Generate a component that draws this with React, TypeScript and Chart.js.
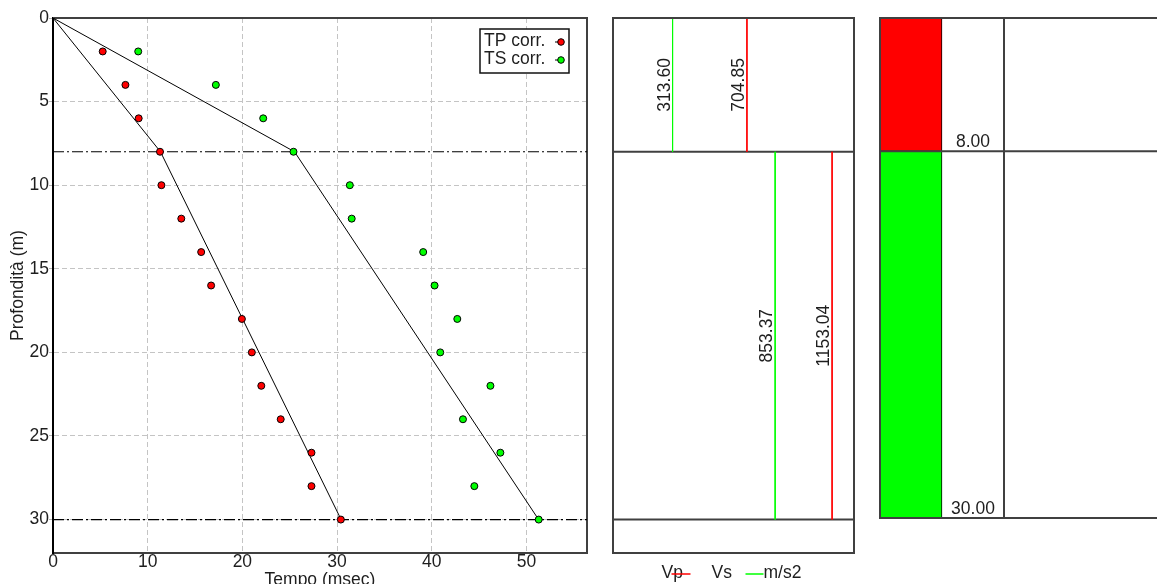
import React, { useEffect, useRef } from "react";
import { Chart, registerables } from "chart.js";

Chart.register(...registerables);

const FONT = '"Liberation Sans", Arial, sans-serif';
const FONT_SIZE = 17.5;
const TEXT = "#1e1e1e";
const FRAME = "#404040";
const GRID = "#c4c4c4";

// Corrected arrival times (msec) at each receiver depth (m)
const geophoneDepths = [2, 4, 6, 8, 10, 12, 14, 16, 18, 20, 22, 24, 26, 28, 30];
const tpCorrected = [5.25, 7.65, 9.05, 11.3, 11.45, 13.55, 15.65, 16.7, 19.95, 21.0, 22.0, 24.05, 27.3, 27.3, 30.4];
const tsCorrected = [9.0, 17.2, 22.2, 25.4, 31.35, 31.55, 39.1, 40.3, 42.7, 40.9, 46.2, 43.3, 47.25, 44.5, 51.3];

// Layered velocity model
const layerTops = [0, 8];
const layerBottoms = [8, 30];
const layerVp = [704.85, 1153.04];
const layerVs = [313.6, 853.37];
const layerColors = ["#ff0000", "#00ff00"];

// Model travel-time curves (break points)
const modelDepths = [0, 8, 30];
const modelTp = [0, 11.35, 30.43];
const modelTs = [0, 25.51, 51.29];

// Axis ticks and ranges
const timeTicks = [0, 10, 20, 30, 40, 50];
const depthTicks = [0, 5, 10, 15, 20, 25, 30];
const timeMax = 56.4;
const depthMax = 32;
const velocityMax = 1268.3;

// Columns of the stratigraphic log
const logColumns = ["c1", "c2", "c3", "c4", "c5"];

const font = { family: FONT, size: FONT_SIZE };
const cssFont = `${FONT_SIZE}px ${FONT}`;

const fixedTicks = (values: number[]) => (scale: any) => {
  scale.ticks = values.map((v) => ({ value: v }));
};

const hLine = (y: number, x0: number, x1: number, color: string, width: number, dash: number[] = []) =>
  ({
    data: [
      { x: x0, y },
      { x: x1, y },
    ],
    showLine: true,
    borderColor: color,
    borderWidth: width,
    borderDash: dash,
    pointRadius: 0,
  } as any);

const vLine = (x: number, y0: number, y1: number, color: string, label: string) =>
  ({
    label,
    data: [
      { x, y: y0 },
      { x, y: y1 },
    ],
    showLine: true,
    borderColor: color,
    borderWidth: 1,
    pointRadius: 0,
  } as any);

// Top and right edges of the travel-time plot
const leftFrame = {
  id: "leftFrame",
  beforeDatasetsDraw(chart: any) {
    const { ctx, chartArea: a } = chart;
    ctx.save();
    ctx.strokeStyle = FRAME;
    ctx.lineWidth = 2;
    ctx.beginPath();
    ctx.moveTo(a.left, a.top);
    ctx.lineTo(a.right, a.top);
    ctx.lineTo(a.right, a.bottom);
    ctx.stroke();
    ctx.restore();
  },
};

// Boxed legend in the upper right corner, marker after the label
const boxLegend = {
  id: "boxLegend",
  afterDatasetsDraw(chart: any) {
    const { ctx, chartArea: a } = chart;
    const items = chart.data.datasets.slice(0, 2);
    const right = a.right - 18;
    const left = right - 89;
    const top = a.top + 11;
    const rowH = 18;
    ctx.save();
    ctx.fillStyle = "#fff";
    ctx.fillRect(left, top, right - left, 44);
    ctx.strokeStyle = "#111";
    ctx.lineWidth = 1.5;
    ctx.strokeRect(left, top, right - left, 44);
    ctx.font = cssFont;
    ctx.textBaseline = "middle";
    ctx.textAlign = "left";
    items.forEach((ds: any, i: number) => {
      const y = top + 12 + i * rowH;
      ctx.fillStyle = TEXT;
      ctx.fillText(ds.label, left + 4, y);
      const mx = right - 8;
      ctx.strokeStyle = "#000";
      ctx.lineWidth = 1;
      ctx.beginPath();
      ctx.moveTo(mx - 6, y + 1);
      ctx.lineTo(mx, y + 1);
      ctx.stroke();
      ctx.beginPath();
      ctx.arc(mx, y + 1, 3.3, 0, Math.PI * 2);
      ctx.fillStyle = ds.pointBackgroundColor;
      ctx.fill();
      ctx.stroke();
    });
    ctx.restore();
  },
};

// Full frame around a plot area
const boxFrame = {
  id: "boxFrame",
  afterDatasetsDraw(chart: any) {
    const { ctx, chartArea: a } = chart;
    ctx.save();
    ctx.strokeStyle = FRAME;
    ctx.lineWidth = 2;
    ctx.strokeRect(a.left, a.top, a.right - a.left, a.bottom - a.top);
    ctx.restore();
  },
};

// Rotated velocity values beside each velocity line
const velocityLabels = {
  id: "velocityLabels",
  afterDatasetsDraw(chart: any) {
    const { ctx, scales } = chart;
    ctx.save();
    ctx.font = cssFont;
    ctx.fillStyle = TEXT;
    ctx.textAlign = "center";
    ctx.textBaseline = "alphabetic";
    layerTops.forEach((top, i) => {
      const y = scales.y.getPixelForValue((top + layerBottoms[i]) / 2);
      [layerVs[i], layerVp[i]].forEach((v) => {
        const x = scales.x.getPixelForValue(v) - 3;
        ctx.save();
        ctx.translate(x, y);
        ctx.rotate(-Math.PI / 2);
        ctx.fillText(v.toFixed(2), 0, 0);
        ctx.restore();
      });
    });
    ctx.restore();
  },
};

// Key under the velocity column
const velocityKey = {
  id: "velocityKey",
  afterDraw(chart: any) {
    const { ctx, chartArea: a } = chart;
    const c = (a.left + a.right) / 2;
    const yText = a.bottom + 25;
    const yLine = a.bottom + 21;
    ctx.save();
    ctx.font = cssFont;
    ctx.fillStyle = TEXT;
    ctx.textAlign = "left";
    ctx.textBaseline = "alphabetic";
    ctx.fillText("Vp", c - 72, yText);
    ctx.fillText("Vs", c - 22, yText);
    ctx.fillText("m/s2", c + 30, yText);
    ctx.lineWidth = 1.5;
    ctx.strokeStyle = layerColors[0];
    ctx.beginPath();
    ctx.moveTo(c - 62, yLine);
    ctx.lineTo(c - 43, yLine);
    ctx.stroke();
    ctx.strokeStyle = layerColors[1];
    ctx.beginPath();
    ctx.moveTo(c + 12, yLine);
    ctx.lineTo(c + 30, yLine);
    ctx.stroke();
    ctx.restore();
  },
};

// Grid of the stratigraphic log and layer-bottom depths
const logGrid = {
  id: "logGrid",
  afterDatasetsDraw(chart: any) {
    const { ctx, chartArea: a, scales } = chart;
    ctx.save();
    ctx.strokeStyle = FRAME;
    ctx.lineWidth = 2;
    ctx.strokeRect(a.left, a.top, a.right - a.left, a.bottom - a.top);
    ctx.beginPath();
    const xs = scales.x.getPixelForValue(1.5);
    ctx.moveTo(xs, a.top);
    ctx.lineTo(xs, a.bottom);
    layerBottoms.slice(0, -1).forEach((b) => {
      const y = scales.y.getPixelForValue(b);
      ctx.moveTo(a.left, y);
      ctx.lineTo(a.right, y);
    });
    ctx.stroke();
    ctx.font = cssFont;
    ctx.fillStyle = TEXT;
    ctx.textAlign = "center";
    ctx.textBaseline = "alphabetic";
    const xc = scales.x.getPixelForValue(1);
    layerBottoms.forEach((b) => {
      ctx.fillText(b.toFixed(2), xc, scales.y.getPixelForValue(b) - 4);
    });
    ctx.restore();
  },
};

const commonOptions = {
  responsive: false,
  animation: false as const,
  events: [] as any[],
};

function buildTimeDepth(canvas: HTMLCanvasElement) {
  return new Chart(canvas, {
    type: "scatter",
    data: {
      datasets: [
        {
          label: "TP corr.",
          data: geophoneDepths.map((d, i) => ({ x: tpCorrected[i], y: d })),
          pointRadius: 3.5,
          pointBackgroundColor: layerColors[0],
          pointBorderColor: "#000",
          pointBorderWidth: 1,
          showLine: false,
        },
        {
          label: "TS corr.",
          data: geophoneDepths.map((d, i) => ({ x: tsCorrected[i], y: d })),
          pointRadius: 3.5,
          pointBackgroundColor: layerColors[1],
          pointBorderColor: "#000",
          pointBorderWidth: 1,
          showLine: false,
        },
        {
          label: "TP",
          data: modelDepths.map((d, i) => ({ x: modelTp[i], y: d })),
          showLine: true,
          borderColor: "#000",
          borderWidth: 1,
          pointRadius: 0,
        },
        {
          label: "TS",
          data: modelDepths.map((d, i) => ({ x: modelTs[i], y: d })),
          showLine: true,
          borderColor: "#000",
          borderWidth: 1,
          pointRadius: 0,
        },
        ...layerBottoms.map((b) => hLine(b, 0, timeMax, "#000", 1.2, [11, 3, 2, 3])),
      ] as any,
    },
    options: {
      ...commonOptions,
      layout: { padding: { top: 18, right: 13, left: 0, bottom: 0 } },
      scales: {
        x: {
          type: "linear",
          position: "bottom",
          min: 0,
          max: timeMax,
          afterFit: (s: any) => {
            s.height = 47;
          },
          afterBuildTicks: fixedTicks(timeTicks),
          grid: { color: GRID, lineWidth: 1, drawTicks: false },
          border: { color: FRAME, width: 2, dash: [5, 3] },
          ticks: { padding: -1, color: TEXT, font, maxRotation: 0 },
          title: {
            display: true,
            text: "Tempo (msec)",
            color: TEXT,
            font,
            padding: { top: 0, bottom: 9 },
          },
        },
        y: {
          type: "linear",
          reverse: true,
          min: 0,
          max: depthMax,
          afterFit: (s: any) => {
            s.width = 53;
          },
          afterBuildTicks: fixedTicks(depthTicks),
          grid: { color: GRID, lineWidth: 1, drawTicks: true, tickLength: 4, tickColor: "#b4b4b4" },
          border: { color: "#000", width: 2, dash: [5, 3] },
          ticks: { padding: 0, color: TEXT, font },
          title: {
            display: true,
            text: "Profondità (m)",
            color: TEXT,
            font,
            padding: { top: 7.5, bottom: 0 },
          },
        },
      },
      plugins: { legend: { display: false }, tooltip: { enabled: false } },
    } as any,
    plugins: [leftFrame, boxLegend],
  });
}

function buildVelocity(canvas: HTMLCanvasElement) {
  return new Chart(canvas, {
    type: "scatter",
    data: {
      datasets: [
        ...layerTops.flatMap((t, i) => [
          vLine(layerVs[i], t, layerBottoms[i], layerColors[1], "Vs"),
          vLine(layerVp[i], t, layerBottoms[i], layerColors[0], "Vp"),
        ]),
        ...layerBottoms.map((b) => hLine(b, 0, velocityMax, FRAME, 2)),
      ] as any,
    },
    options: {
      ...commonOptions,
      layout: { padding: { top: 18, left: 13, right: 16, bottom: 47 } },
      scales: {
        x: { type: "linear", display: false, min: 0, max: velocityMax },
        y: { type: "linear", display: false, reverse: true, min: 0, max: depthMax },
      },
      plugins: { legend: { display: false }, tooltip: { enabled: false } },
    } as any,
    plugins: [boxFrame, velocityLabels, velocityKey],
  });
}

function buildLog(canvas: HTMLCanvasElement) {
  return new Chart(canvas, {
    type: "bar",
    data: {
      labels: logColumns,
      datasets: layerTops.map((t, i) => ({
        label: `Strato ${i + 1}`,
        data: [[t, layerBottoms[i]]],
        backgroundColor: layerColors[i],
        borderColor: "#000",
        borderWidth: 1,
        borderSkipped: false,
        grouped: false,
        barPercentage: 1,
        categoryPercentage: 1,
      })) as any,
    },
    options: {
      ...commonOptions,
      layout: { padding: { top: 18, left: 10, right: 10, bottom: 82 } },
      scales: {
        x: { type: "category", display: false, ticks: { display: false, autoSkip: false } },
        y: {
          type: "linear",
          display: false,
          reverse: true,
          stacked: false,
          min: 0,
          max: layerBottoms[layerBottoms.length - 1],
        },
      },
      plugins: { legend: { display: false }, tooltip: { enabled: false } },
    } as any,
    plugins: [logGrid],
  });
}

export default function App() {
  const timeRef = useRef<HTMLCanvasElement>(null);
  const velRef = useRef<HTMLCanvasElement>(null);
  const logRef = useRef<HTMLCanvasElement>(null);

  useEffect(() => {
    const charts = [
      buildTimeDepth(timeRef.current as HTMLCanvasElement),
      buildVelocity(velRef.current as HTMLCanvasElement),
      buildLog(logRef.current as HTMLCanvasElement),
    ];
    return () => charts.forEach((c) => c.destroy());
  }, []);

  const abs = (left: number, width: number): React.CSSProperties => ({
    position: "absolute",
    left,
    top: 0,
    width,
    height: 600,
  });

  return (
    <div
      style={{
        position: "fixed",
        left: 0,
        top: 0,
        width: 1157,
        height: 584,
        overflow: "hidden",
        background: "#fff",
      }}
    >
      <canvas ref={timeRef} width={600} height={600} style={abs(0, 600)} />
      <canvas ref={velRef} width={270} height={600} style={abs(600, 270)} />
      <canvas ref={logRef} width={330} height={600} style={abs(870, 330)} />
    </div>
  );
}
